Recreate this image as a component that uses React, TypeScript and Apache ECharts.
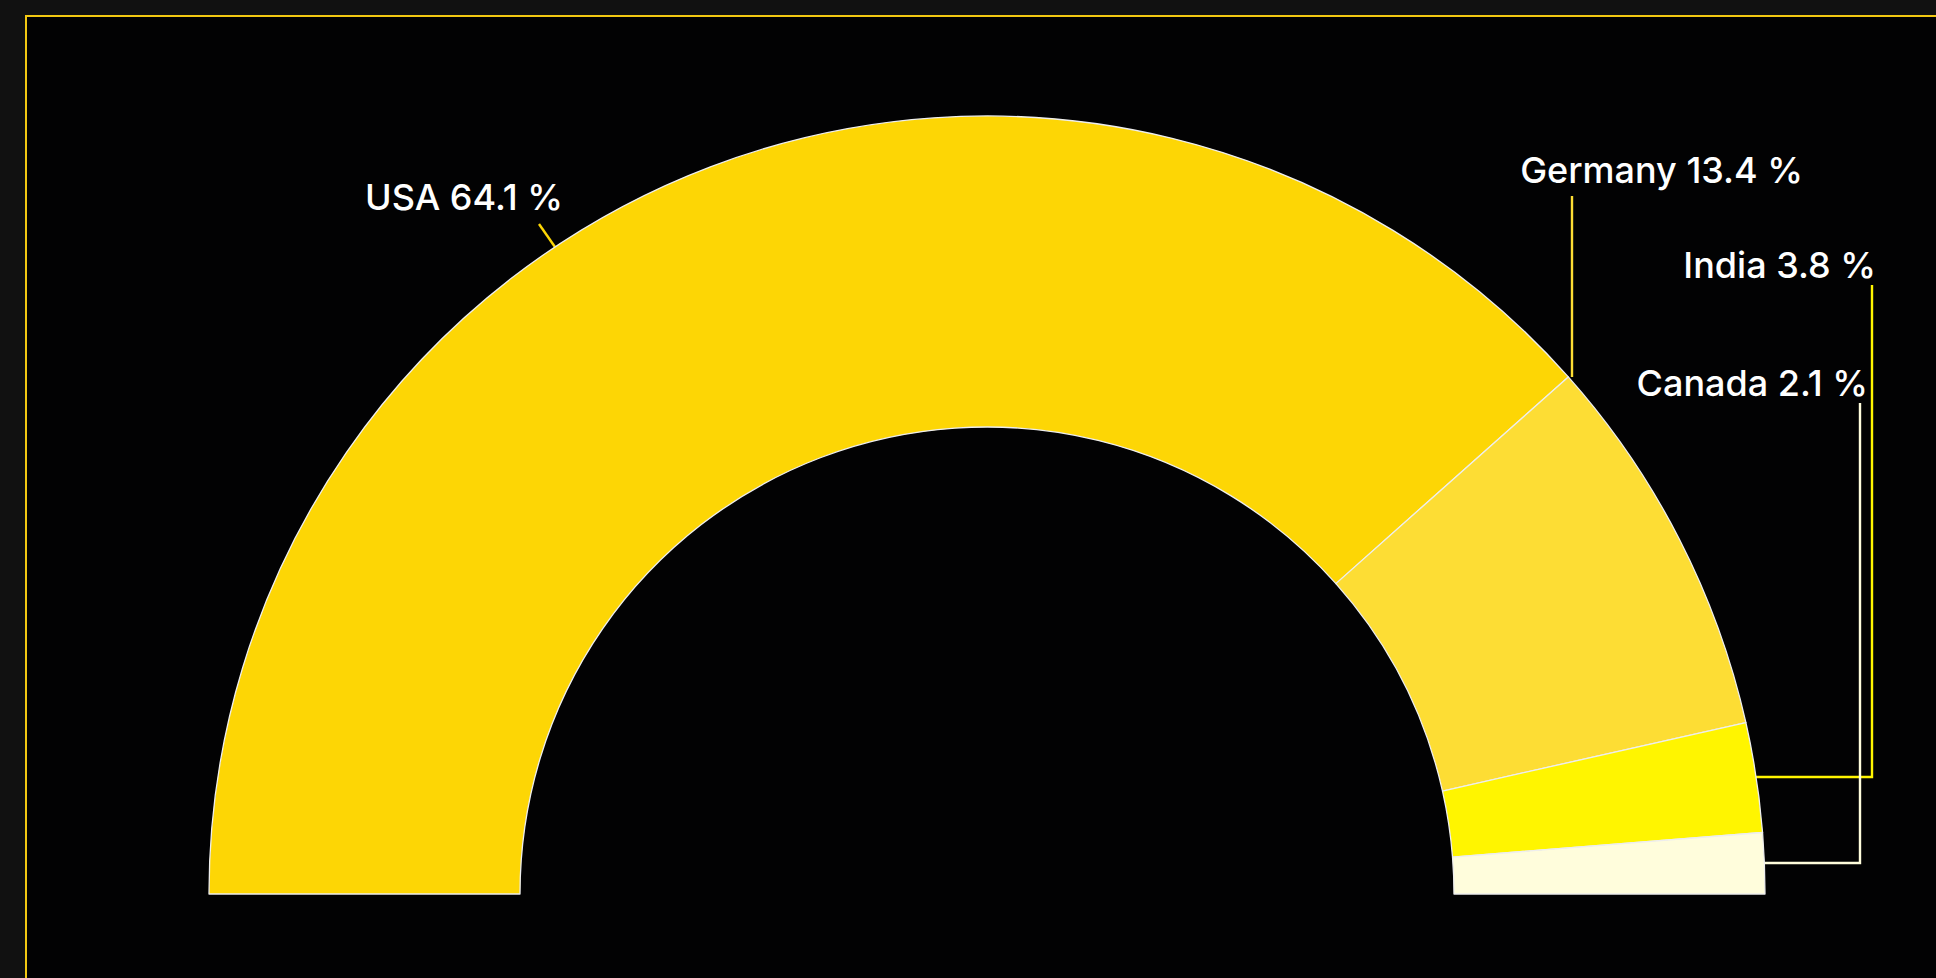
import React, { useEffect, useRef } from "react";
import * as echarts from "echarts";

const countries = ["USA", "Germany", "India", "Canada"];
const shares = [64.1, 13.4, 3.8, 2.1];
const sliceColors = ["#fdd605", "#fddd34", "#fff500", "#fffddc"];

const CENTER = [987, 894];
const RADIUS = [467, 778];
// label placement (right edge x, middle y)
const labelRight = [563, 1803, 1876, 1868];
const labelMiddle = [197, 170, 265, 383];

export default function App() {
  const ref = useRef<HTMLDivElement>(null);
  useEffect(() => {
    const chart = echarts.init(ref.current!, null, { renderer: "svg" });
    const total = shares.reduce((a, b) => a + b, 0);
    const startDeg: number[] = [];
    const endDeg: number[] = [];
    let acc = 0;
    shares.forEach((v) => {
      startDeg.push(180 - (acc / total) * 180);
      acc += v;
      endDeg.push(180 - (acc / total) * 180);
    });
    const arcPt = (deg: number) => [
      Math.round(CENTER[0] + RADIUS[1] * Math.cos((deg * Math.PI) / 180)),
      Math.round(CENTER[1] - RADIUS[1] * Math.sin((deg * Math.PI) / 180)),
    ];
    const linePoints = (i: number) => {
      const rx = labelRight[i];
      const my = labelMiddle[i];
      if (i === 0) {
        const ax = rx - 24;
        const ay = my + 27;
        const ang = (Math.atan2(CENTER[1] - ay, ax - CENTER[0]) * 180) / Math.PI;
        const s = arcPt(ang);
        return [s, [ax, ay], [ax, ay]];
      }
      if (i === 1) {
        const s = arcPt(startDeg[1]);
        const x = s[0] + 4;
        return [[x, s[1]], [x, my + 26], [x, my + 26]];
      }
      const s = arcPt((startDeg[i] + endDeg[i]) / 2);
      const x = rx - (i === 3 ? 8 : 4);
      return [s, [x, s[1]], [x, my + 20]];
    };

    chart.setOption({
      animation: false,
      backgroundColor: "#111111",
      graphic: [
        {
          type: "rect",
          silent: true,
          z: 0,
          shape: { x: 26, y: 16, width: 1960, height: 1000 },
          style: { fill: "#020203", stroke: "#f2c812", lineWidth: 2 },
        },
      ],
      series: [
        {
          type: "pie",
          center: CENTER,
          radius: RADIUS,
          startAngle: 180,
          endAngle: 360,
          clockwise: true,
          avoidLabelOverlap: false,
          silent: true,
          data: countries.map((n, i) => ({
            name: n,
            value: shares[i],
            itemStyle: { color: sliceColors[i] },
          })),
          itemStyle: { borderColor: "#eeeeee", borderWidth: 1.3 },
          label: {
            show: true,
            position: "outside",
            formatter: "{b} {c} %",
            color: "#ffffff",
            fontFamily: "Inter",
            fontSize: 36,
            fontWeight: 500,
          },
          labelLine: { show: true, length: 20, length2: 20, lineStyle: { width: 2.4 } },
          labelLayout: (p: any) => ({
            x: labelRight[p.dataIndex],
            y: labelMiddle[p.dataIndex],
            align: "right",
            verticalAlign: "middle",
            labelLinePoints: linePoints(p.dataIndex),
          }),
          emphasis: { disabled: true },
        },
      ],
    });
    return () => chart.dispose();
  }, []);
  return (
    <div
      ref={ref}
      style={{ position: "fixed", left: 0, top: 0, width: 1936, height: 978 }}
    />
  );
}
